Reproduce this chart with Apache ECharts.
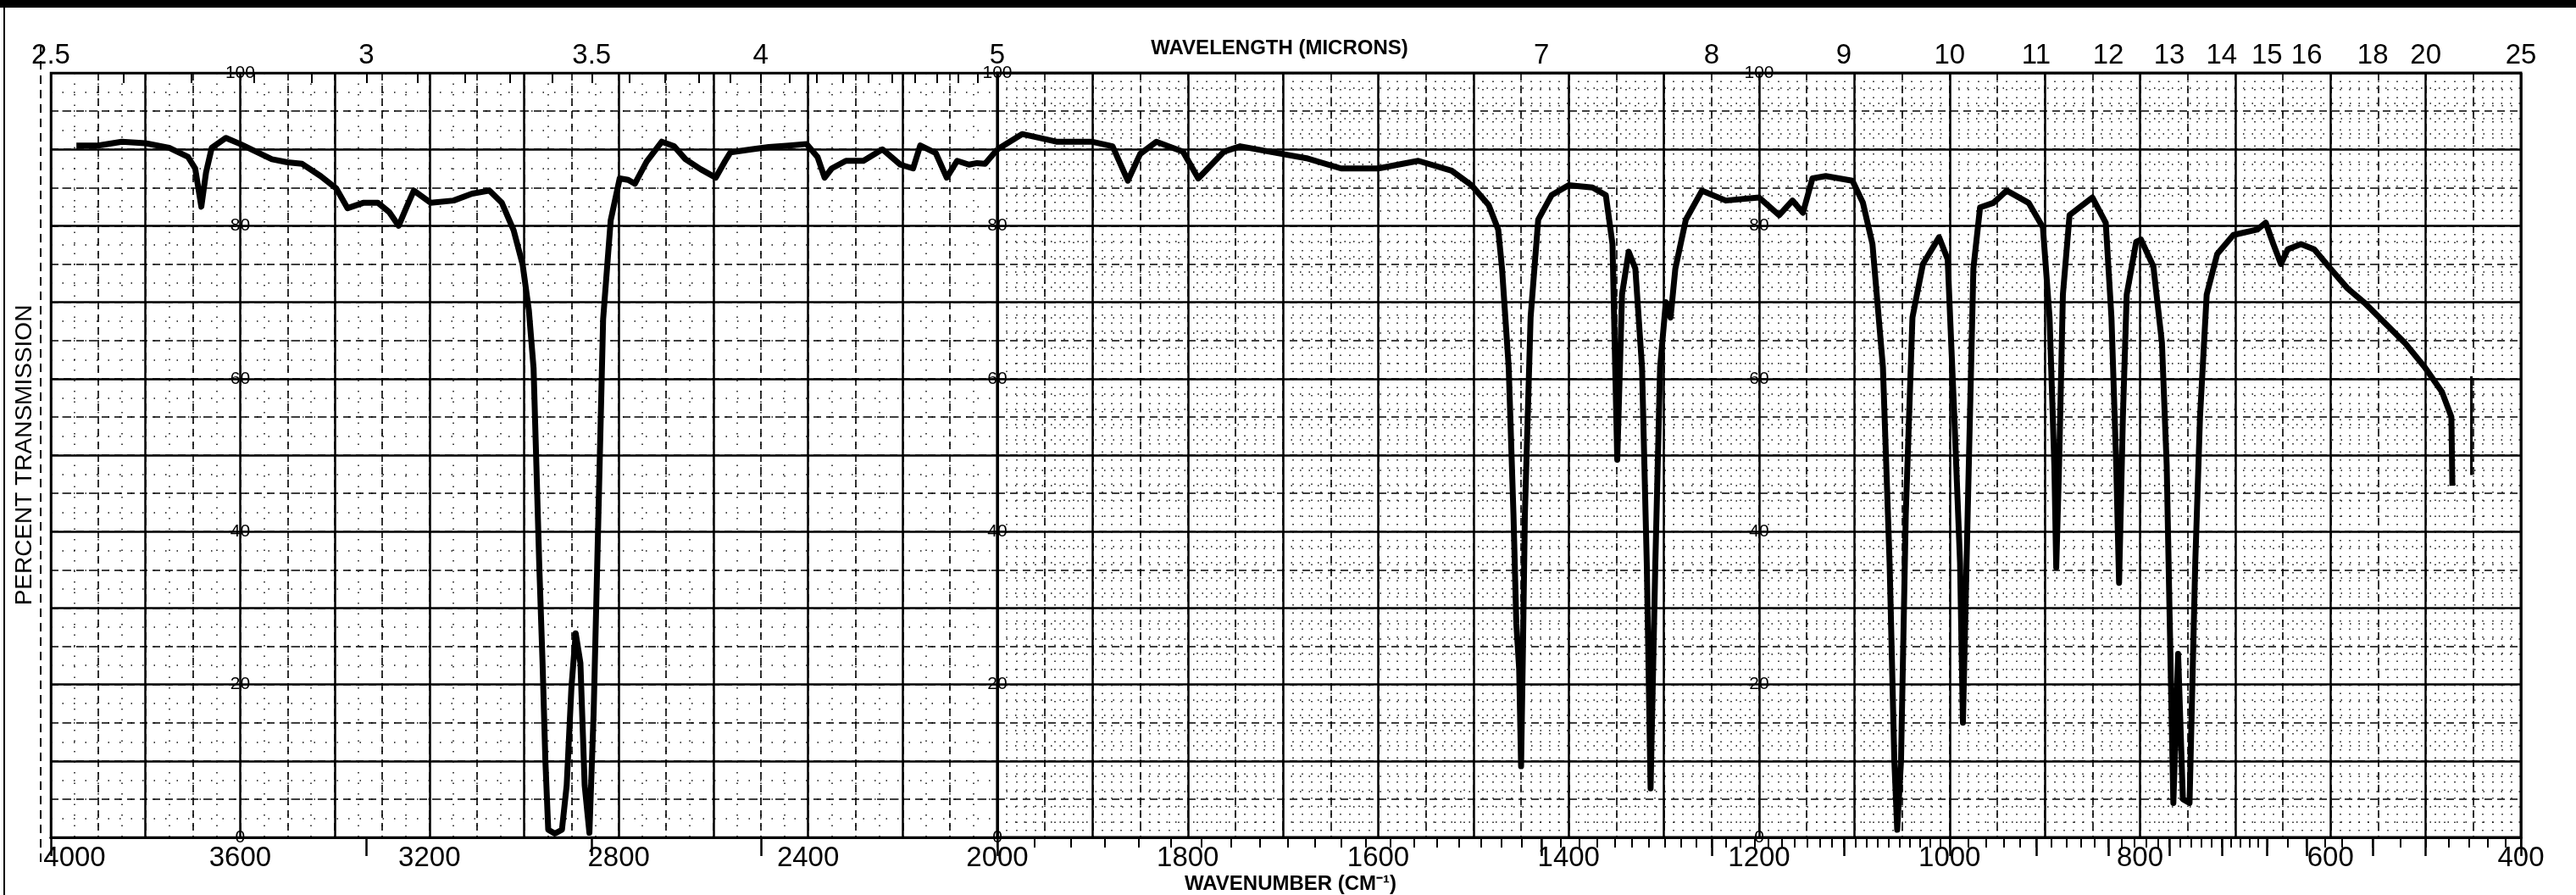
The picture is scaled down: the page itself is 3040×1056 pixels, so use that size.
<!DOCTYPE html>
<html>
<head>
<meta charset="utf-8">
<script src="https://cdn.jsdelivr.net/npm/echarts@6/dist/echarts.min.js"></script>
<style>
html,body{margin:0;padding:0;background:#fff;}
#c{width:3040px;height:1056px;}
</style>
</head>
<body>
<div id="c"></div>
<script>
// ---------------- DATA ----------------
const wavenumber = [
3946,3900,3850,3800,3750,3710,3695,3682,3672,3660,3630,3600,3560,3533,3500,3469,3430,3397,3373,3340,
3309,3285,3265,3248,3233,3197,3149,3110,3073,3047,3022,3003,2990,2980,2974,2968,2961,2955,2949,2935,
2920,2910,2900,2891,2881,2872,2862,2853,2843,2833,2817,2798,2780,2766,2741,2709,2683,2659,2627,2595,
2575,2564,2520,2483,2440,2403,2380,2365,2350,2320,2283,2243,2205,2178,2163,2130,2107,2085,2060,2043,
2026,2000,
1974,1938,1901,1879,1863,1850,1833,1805,1789,1762,1745,1701,1674,1639,1600,1558,1523,1502,1484,1474,
1470,1463,1458,1455,1452,1450,1448,1446,1440,1432,1418,1400,1375,1361,1354,1349,1344,1337,1330,1323,
1318,1314,1309,1304,1298,1293,1288,1277,1260,1235,1200,1179,1165,1154,1144,1130,1102,1091,1081,1070,
1063,1058,1055,1051,1046,1039,1028,1011,1002,995,989,986,981,975,968,954,940,917,902,895,
890,888,885,881,874,850,836,830,825,822,818,814,804,799,786,777,772,769,765,760,
755,748,742,737,730,719,702,677,668,660,652,645,631,617,600,582,564,543,522,501,
483,473,472
];
const transmission = [
90.5,90.5,91,90.8,90.2,89,87.5,82.5,87,90.2,91.5,90.7,89.5,88.7,88.3,88.1,86.5,84.9,82.3,83,
83,81.8,80,82.5,84.6,83,83.3,84.2,84.6,83,79.4,74.9,69,61.4,48.6,35.7,22.8,10,1,0.5,
1,6.8,19.6,26.7,22.8,6.8,0.6,16.4,42,67.8,80.7,86.2,86,85.5,88.4,91,90.4,88.7,87.4,86.3,
88.5,89.6,90,90.3,90.5,90.7,89,86.3,87.5,88.5,88.5,90,88,87.5,90.5,89.5,86.3,88.5,88,88.2,
88.1,90,
92,91,91,90.4,85.9,89.4,91,89.7,86.2,89.7,90.4,89.4,88.8,87.5,87.5,88.5,87.2,85.3,82.7,79.5,
74.4,61.5,42.3,28,22,9.3,25,42.3,68,80.8,84,85.3,85,84,77.6,49.4,71,76.6,74.4,61.5,
35.9,6.4,35.9,61.5,70,68,74.4,80.8,84.6,83.3,83.7,81.4,83.3,81.7,86.2,86.5,85.9,83,77.6,61.5,
35.9,10,1,10,42.3,68,75,78.5,75.6,55,35.9,15,42.3,74.4,82.4,83,84.6,83,79.8,68,
48.7,35.3,48.7,71,81.4,83.7,80.4,68,48.7,33.3,55,71,77.9,78.2,74.7,64.7,48.7,29.5,4.5,24,
5,4.5,35.9,55,71,76.3,78.8,79.5,80.4,77.6,75,76.9,77.6,76.9,74.4,71.8,69.9,67.3,64.7,61.5,
58.3,55,46
];
// separate pen mark near the end of the scan
const penMarkWavenumber = [452, 452];
const penMarkTransmission = [60.3, 47.4];

const bottomLabelsLeft  = [4000, 3600, 3200, 2800, 2400];
const bottomLabelsRight = [2000, 1800, 1600, 1400, 1200, 1000, 800, 600, 400];
const micronLabelsLeft  = [2.5, 3, 3.5, 4];
const micronLabelsRight = [5, 7, 8, 9, 10, 11, 12, 13, 14, 15, 16, 18, 20, 25];
const innerPercentLabels = [0, 20, 40, 60, 80, 100];
const innerLabelLinesLeft = [3600];
const innerLabelLinesRight = [2000, 1200];

// ---------------- LAYOUT ----------------
const GL = {left: 60, width: 1117};      // 4000 -> 2000
const GR = {left: 1177, width: 1798};    // 2000 -> 400
const TOP = 86, HEIGHT = 902;
const FONT = "'Liberation Sans', Arial, sans-serif";

const leftPts = [], rightPts = [];
wavenumber.forEach((w, i) => {
  if (w >= 2000) leftPts.push([w, transmission[i]]);
  if (w <= 2000) rightPts.push([w, transmission[i]]);
});
const penPts = penMarkWavenumber.map((w, i) => [w, penMarkTransmission[i]]);

// tick marks hanging from the wavelength axis (microns)
function micronTicks(a, b, step) { const r = []; for (let m = a; m <= b + 1e-9; m += step) r.push(+m.toFixed(2)); return r; }
const tickMicronsLeft = micronTicks(2.5, 5.0, 0.1);
const tickMicronsRight = micronTicks(5.0, 10, 0.1).concat(micronTicks(10.2, 15, 0.2), micronTicks(15.5, 17, 0.5), micronTicks(18, 25, 1));
const toWn = m => 10000 / m;
const fmtMicron = v => { const m = 10000 / v; return String(Math.round(m * 10) / 10); };

const black = '#000';
function mainX(grid, min, max, interval, minorSplit, dotDash, labels, leftPad) {
  return {
    type: 'value', gridIndex: grid, position: 'bottom', min, max, interval, inverse: true,
    axisLine: {show: true, lineStyle: {color: black, width: 3}},
    axisTick: {show: false},
    axisLabel: {
      show: true, customValues: labels, margin: 8, color: black, fontSize: 33, fontFamily: FONT,
      formatter: v => (v === 4000 ? '{f|4000}' : String(v)),
      rich: {f: {fontSize: 33, fontFamily: FONT, color: black, padding: [0, 0, 0, leftPad]}}
    },
    splitLine: {show: true, lineStyle: {color: black, width: 2.5}},
    minorTick: {show: false, splitNumber: minorSplit},
    minorSplitLine: {show: true, lineStyle: {color: '#111', width: 1.5, type: dotDash}}
  };
}
function dashX(grid, min, max, interval) {
  return {
    type: 'value', gridIndex: grid, position: 'bottom', min, max, interval, inverse: true,
    axisLine: {show: false}, axisTick: {show: false}, axisLabel: {show: false},
    splitLine: {show: true, lineStyle: {color: black, width: 1.6, type: [9, 6]}}
  };
}
function topLabelX(grid, min, max, microns) {
  return {
    type: 'value', gridIndex: grid, position: 'top', min, max, inverse: true,
    axisLine: {show: true, lineStyle: {color: black, width: 3}},
    axisTick: {show: true, inside: true, length: 22, customValues: microns.map(toWn), lineStyle: {color: black, width: 2.5}},
    axisLabel: {show: true, customValues: microns.map(toWn), margin: 4, color: black, fontSize: 33, fontFamily: FONT, formatter: fmtMicron},
    splitLine: {show: false}
  };
}
function topTickX(grid, min, max, microns) {
  return {
    type: 'value', gridIndex: grid, position: 'top', min, max, inverse: true,
    axisLine: {show: false},
    axisTick: {show: true, inside: true, length: 12, customValues: microns.map(toWn), lineStyle: {color: black, width: 2}},
    axisLabel: {show: false}, splitLine: {show: false}
  };
}
function mainY(grid, minorSplit, dotDash, name) {
  return {
    type: 'value', gridIndex: grid, min: 0, max: 100, interval: 10, position: 'left',
    name: name || '', nameLocation: 'middle', nameGap: 17, nameRotate: 90,
    nameTextStyle: {fontSize: 28, fontFamily: FONT, color: black},
    axisLine: {show: false}, axisTick: {show: false}, axisLabel: {show: false},
    splitLine: {show: true, lineStyle: {color: black, width: 2.5}},
    minorTick: {show: false, splitNumber: minorSplit},
    minorSplitLine: {show: true, lineStyle: {color: '#111', width: 1.5, type: dotDash}}
  };
}
function dashY(grid) {
  return {
    type: 'value', gridIndex: grid, min: 0, max: 100, interval: 5, position: 'left',
    axisLine: {show: false}, axisTick: {show: false}, axisLabel: {show: false},
    splitLine: {show: true, lineStyle: {color: black, width: 1.6, type: [9, 6]}}
  };
}
function innerY(grid, offset) {
  return {
    type: 'value', gridIndex: grid, min: 0, max: 100, position: 'left', offset,
    axisLine: {show: false}, axisTick: {show: false}, splitLine: {show: false},
    axisLabel: {show: true, customValues: innerPercentLabels, align: 'center', margin: 0,
      color: black, fontSize: 21, fontFamily: FONT}
  };
}

const pxL = GL.width / 2000, pxR = GR.width / 1600;
const xAxes = [
  mainX(0, 2000, 4000, 200, 4, [1.5, 11], bottomLabelsLeft, 56),
  dashX(0, 2000, 4000, 100),
  topLabelX(0, 2000, 4000, micronLabelsLeft),
  topTickX(0, 2000, 4000, tickMicronsLeft),
  mainX(1, 400, 2000, 100, 10, [1.5, 8], bottomLabelsRight, 0),
  dashX(1, 400, 2000, 50),
  topLabelX(1, 400, 2000, micronLabelsRight),
  topTickX(1, 400, 2000, tickMicronsRight)
];
const yAxes = [
  mainY(0, 4, [1.5, 12], 'PERCENT TRANSMISSION'),
  dashY(0),
  ...innerLabelLinesLeft.map(w => innerY(0, -(4000 - w) * pxL)),
  mainY(1, 5, [1.5, 9]),
  dashY(1),
  ...innerLabelLinesRight.map(w => innerY(1, -(2000 - w) * pxR))
];
const yMainRight = 2 + innerLabelLinesLeft.length;

const option = {
  animation: false,
  backgroundColor: '#fff',
  title: [
    {text: 'WAVELENGTH (MICRONS)', left: 1505, top: 40, textAlign: 'center',
     textStyle: {fontSize: 24, fontWeight: 'bold', fontFamily: "'Liberation Sans Narrow', " + FONT, color: black}},
    {text: 'WAVENUMBER (CM\u207B\u00B9)', left: 1518, top: 1026, textAlign: 'center',
     textStyle: {fontSize: 24, fontWeight: 'bold', fontFamily: "'Liberation Sans Narrow', " + FONT, color: black}}
  ],
  grid: [
    {left: GL.left, top: TOP, width: GL.width, height: HEIGHT, show: true, borderColor: black, borderWidth: 2.5, backgroundColor: 'transparent'},
    {left: GR.left, top: TOP, width: GR.width, height: HEIGHT, show: true, borderColor: black, borderWidth: 3, backgroundColor: 'transparent'}
  ],
  xAxis: xAxes,
  yAxis: yAxes,
  graphic: [
    {type: 'rect', shape: {x: 0, y: 0, width: 3040, height: 9}, style: {fill: black}},
    {type: 'line', shape: {x1: 5, y1: 9, x2: 5, y2: 1056}, style: {stroke: black, lineWidth: 2}},
    {type: 'line', shape: {x1: 48, y1: 55, x2: 48, y2: 1022}, style: {stroke: black, lineWidth: 2, lineDash: [10, 7]}}
  ],
  series: [
    {type: 'line', xAxisIndex: 0, yAxisIndex: 0, data: leftPts, symbol: 'none', smooth: false,
     lineStyle: {color: black, width: 7, join: 'round'}, z: 10},
    {type: 'line', xAxisIndex: 4, yAxisIndex: yMainRight, data: rightPts, symbol: 'none', smooth: false,
     lineStyle: {color: black, width: 7, join: 'round'}, z: 10},
    {type: 'line', xAxisIndex: 4, yAxisIndex: yMainRight, data: penPts, symbol: 'none',
     lineStyle: {color: black, width: 3}, z: 10}
  ]
};
const chart = echarts.init(document.getElementById('c'), null, {renderer: 'canvas'});
chart.setOption(option);
</script>
</body>
</html>
